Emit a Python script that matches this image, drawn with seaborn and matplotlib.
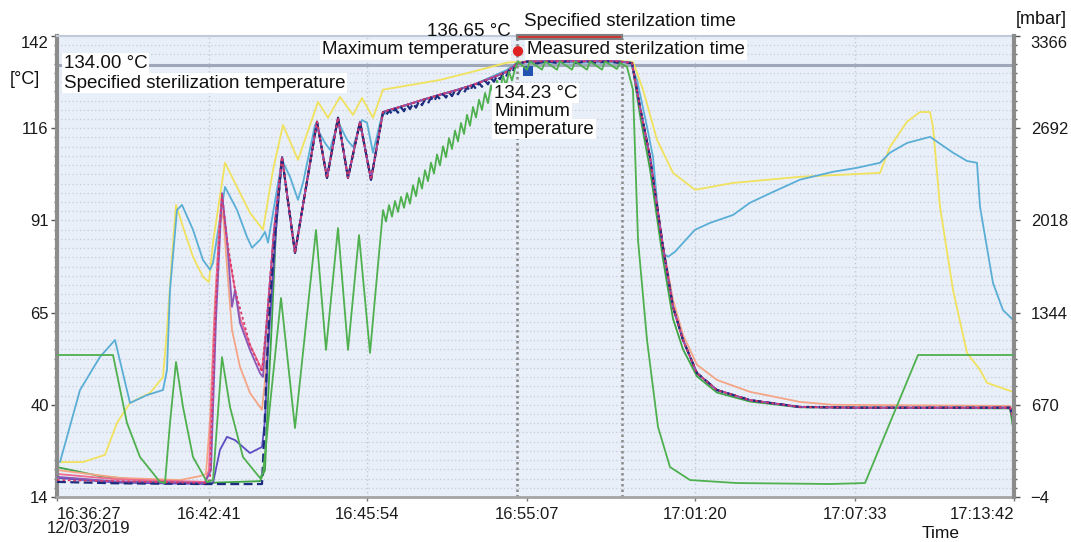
import numpy as np
import pandas as pd
import matplotlib
matplotlib.use("Agg")
import matplotlib.pyplot as plt
import seaborn as sns
from matplotlib.patches import Rectangle
from matplotlib.transforms import ScaledTranslation

sns.set_theme(style="white")
plt.rcParams['font.family'] = ['Liberation Sans', 'DejaVu Sans']

# ---------------- DATA ----------------
# x = position along the (non-linear) time axis, 0 .. 957
tick_pos = [0, 152, 310, 470, 638, 798, 957]
tick_labels = ["16:36:27\n12/03/2019", "16:42:41", "16:45:54", "16:55:07",
               "17:01:20", "17:07:33", "17:13:42"]
temp_ticks = ["14", "40", "65", "91", "116", "142"]
press_ticks = ["\u22124", "670", "1344", "2018", "2692", "3366"]

yellow_x = [3, 26, 48, 60, 73, 93, 106, 110, 115, 119, 126, 136, 146, 152, 156, 168, 180, 193, 206, 216,
            226, 241, 261, 271, 283, 296, 305, 316, 326, 343, 383, 416, 450, 460, 543, 576, 586, 600, 616, 638,
            676, 743, 823, 833, 850, 863, 873, 876, 883, 896, 910, 923, 930, 956]
yellow_t = [23.7, 23.7, 25.7, 34.6, 40.1, 42.9, 47.3, 60.4, 80.7, 95.1, 89.0, 80.7, 75.1, 73.7, 84.6, 106.8, 100.1, 92.9, 88.2, 104.8,
            117.3, 107.6, 123.7, 119.3, 125.1, 120.1, 124.8, 119.3, 127.1, 127.9, 129.8, 132.1, 134.6, 134.8, 135.4, 134.8, 127.1, 113.2, 104.0, 99.3,
            101.2, 102.9, 104.0, 111.2, 118.2, 120.9, 120.9, 116.8, 94.6, 71.5, 54.0, 49.3, 45.7, 43.2]

lightblue_x = [3, 23, 43, 58, 73, 90, 106, 110, 113, 120, 125, 136, 146, 153, 156, 168, 180, 190, 195, 203,
               208, 211, 225, 233, 241, 246, 258, 268, 273, 281, 290, 296, 305, 310, 316, 325, 350, 383, 416, 450,
               460, 573, 580, 590, 596, 603, 606, 611, 618, 638, 653, 676, 693, 716, 743, 776, 800, 823, 833, 850,
               873, 896, 910, 920, 923, 936, 946, 956]
lightblue_t = [23.7, 43.7, 52.9, 57.6, 40.1, 42.3, 43.7, 49.3, 71.5, 93.7, 95.1, 88.2, 79.8, 77.1, 79.0, 100.1, 93.7, 86.2, 83.2, 85.4,
               87.6, 84.6, 107.6, 102.9, 96.5, 101.2, 117.3, 112.3, 110.4, 118.2, 113.2, 111.2, 118.7, 117.9, 109.6, 120.1, 122.9, 125.7, 128.4, 132.6,
               134.6, 134.6, 129.8, 116.8, 108.4, 87.3, 81.8, 80.7, 82.1, 88.2, 90.1, 92.3, 95.7, 98.7, 102.1, 104.3, 105.4, 106.8, 109.6, 112.3,
               114.0, 109.6, 107.3, 106.8, 94.6, 73.4, 65.9, 63.2]

# chamber pressure [mbar]
pressure_x = [0, 56, 70, 83, 103, 108, 113, 119, 126, 136, 150, 156, 165, 173, 186, 203, 206, 224, 238, 259,
              269, 281, 291, 302, 313,
              326, 329, 332, 335, 338, 341, 344, 347, 350, 353, 356, 359, 362, 365, 368, 371, 374, 377, 380, 383,
              386, 389, 392, 395, 398, 401, 404, 407, 410, 413, 416, 419, 422, 425, 428, 431, 434, 437, 440, 443,
              446, 449, 452, 455, 458,
              461, 470, 473, 485, 488, 500, 503, 515, 518, 530, 533, 545, 548, 560, 563, 570,
              576, 581, 590, 601, 613, 633, 680, 773, 808, 861, 956]
pressure_mbar = [1034, 1034, 537, 288, 106, 98, 537, 983, 654, 288, 106, 120, 1019, 654, 288, 135, 171, 1451, 500, 1948,
                 1071, 1962, 1071, 1911, 1049,
                 2094, 2010, 2130, 2045, 2160, 2080, 2190, 2110, 2218, 2140, 2275, 2195, 2330, 2250, 2385, 2305, 2440, 2360, 2500, 2420,
                 2560, 2480, 2620, 2540, 2675, 2595, 2730, 2650, 2790, 2710, 2847, 2770, 2900, 2825, 2950, 2875, 3005, 2930, 3040, 2970,
                 3075, 3005, 3105, 3040, 3125,
                 3180, 3120, 3180, 3120, 3180, 3120, 3180, 3120, 3180, 3120, 3180, 3120, 3180, 3125, 3170, 3140,
                 2971, 1875, 1144, 508, 215, 120, 98, 91, 98, 1034, 1034]

# common course of the load probes (they overlap from the pulses to the cooldown)
bundle_x = [225, 238, 260, 270, 281, 291, 303, 314, 326, 333, 350, 366, 383, 400, 416, 433, 450, 460, 470, 500, 530, 560, 575]
bundle_t = [108.4, 81.8, 118.2, 102.6, 119.3, 102.6, 118.2, 102.1, 120.9, 121.5, 122.9, 124.3, 125.7, 127.0, 128.4, 130.2, 132.1, 134.3, 134.9, 135.0, 135.0, 135.0, 134.5]
cool_x = [583, 593, 606, 616, 626, 640, 660, 693, 743, 800, 900, 953, 956]
cool_t = [122.3, 108.4, 83.4, 66.8, 57.6, 48.4, 43.7, 40.9, 39.0, 38.8, 38.8, 38.8, 36.2]

# navy probe (visible ripple during the heat-up and hold)
navy_mid_x = [225, 238, 260, 270, 281, 291, 303, 314,
              326, 329, 332, 335, 338, 341, 344, 347, 350, 353, 356, 359, 362, 365, 368, 371, 374, 377, 380, 383,
              386, 389, 392, 395, 398, 401, 404, 407, 410, 413, 416, 419, 422, 425, 428, 431, 434, 437, 440, 443,
              446, 449, 452, 455, 458, 460, 470, 480, 490, 500, 510, 520, 530, 540, 550, 560, 575]
navy_mid_t = [108.4, 81.8, 118.2, 102.6, 119.3, 102.6, 118.2, 102.1,
              120.9, 119.8, 121.4, 120.3, 121.8, 120.7, 122.2, 121.1, 122.9, 121.7, 123.3, 122.1, 123.9, 122.8, 124.4, 123.3, 124.9, 123.8, 125.4, 124.5,
              125.9, 124.9, 126.4, 125.3, 126.8, 125.8, 127.3, 126.2, 127.8, 126.7, 128.4, 127.3, 129.0, 127.9, 129.6, 128.6, 130.3, 129.3, 131.0, 130.0,
              131.6, 130.7, 132.5, 131.7, 133.6, 134.3, 134.9, 134.4, 135.0, 134.5, 135.0, 134.5, 135.0, 134.5, 135.0, 134.6, 134.5]

red_x = [0, 60, 148, 153, 158, 163, 165, 170, 178, 193, 205, 209, 217]
red_t = [18.7, 18.4, 17.9, 18.7, 62.3, 90.1, 97.9, 85.4, 71.5, 56.2, 48.7, 60.4, 88.0]
pink_x = [0, 60, 148, 152, 157, 162, 165, 171, 183, 193, 205, 209, 217]
pink_t = [20.4, 18.9, 18.2, 21.5, 60.4, 88.2, 97.3, 82.6, 63.7, 56.2, 49.3, 60.4, 88.0]
purple_x = [0, 60, 148, 154, 159, 165, 170, 175, 178, 183, 193, 203, 206, 210, 217]
purple_t = [19.6, 18.3, 17.9, 21.5, 63.2, 98.4, 85.4, 66.8, 71.5, 62.3, 54.8, 48.4, 47.3, 63.2, 88.0]
salmon_x = [0, 63, 123, 143, 149, 153, 158, 163, 166, 170, 175, 183, 193, 205, 208, 214]
salmon_t = [21.5, 19.3, 18.7, 19.8, 20.4, 35.4, 68.7, 90.0, 93.0, 78.0, 60.4, 50.1, 42.9, 38.2, 46.5, 72.0]
salmon_cool_x = [583, 593, 606, 616, 626, 640, 660, 693, 743, 776, 953, 956]
salmon_cool_t = [122.3, 108.4, 84.0, 68.7, 59.0, 50.7, 46.5, 43.2, 40.4, 39.6, 39.3, 37.6]
violet_x = [0, 60, 148, 156, 163, 170, 178, 193, 205, 208, 211, 215, 219]
violet_t = [19.3, 18.0, 17.6, 17.9, 27.1, 30.7, 29.8, 26.2, 27.9, 35.4, 54.8, 71.5, 88.0]
navy_x = [0, 60, 148, 205, 207, 210, 213, 219]
navy_t = [18.2, 17.8, 17.6, 17.6, 29.8, 52.1, 68.7, 90.0]
green_x = [0, 43, 103, 148, 203, 208, 211, 215, 219]
green_t = [22.3, 19.8, 18.2, 17.9, 18.4, 21.5, 40.9, 63.2, 88.2]
green_cool_x = [583, 593, 606, 616, 626, 640, 660, 693, 743, 953, 956]
green_cool_t = [120.0, 105.0, 80.0, 63.5, 55.0, 47.5, 43.0, 40.5, 38.9, 38.6, 33.4]

max_x, max_t = [461], [136.65]
min_x, min_t = [471], [134.23]
spec_temp = 134.0
steril_start, steril_end = 460, 565

# ---------------- FIGURE ----------------
W, H = 1071, 542
fig = plt.figure(figsize=(W / 100, H / 100), dpi=100)
fig.patch.set_facecolor('white')
ax = fig.add_axes([57 / W, 45 / H, 957 / W, 461 / H])
ax.set_facecolor('#e9eff8')
ax.set_xlim(0, 957)
ax.set_ylim(14, 142)
ax.set_axisbelow(True)

# grid
ax.set_yticks(np.linspace(14, 142, 6))
ax.set_yticks(np.linspace(14, 142, 51), minor=True)
ax.grid(which='both', axis='y', color='#c4ccd9', linestyle=(0, (1, 2)), linewidth=0.9)
for p in tick_pos[1:-1]:
    if p != 470:
        ax.axvline(p, color='#c2cad8', linestyle=(0, (1, 2)), linewidth=1.0, zorder=0.5)
ax.axhline(spec_temp, color='#9ea8b8', linewidth=2.2, zorder=1)
for p in (steril_start, steril_end):
    ax.axvline(p, color='#8a8a8a', linestyle=(0, (1, 1.2)), linewidth=1.8, zorder=1.2)


def draw(x, y, color, axis, ls='-', lw=1.3, z=2):
    sns.lineplot(x=x, y=y, ax=axis, color=color, linestyle=ls, linewidth=lw,
                 sort=False, estimator=None, legend=False, zorder=z)


draw(yellow_x, yellow_t, '#f0e25e', ax, z=2)
draw(lightblue_x, lightblue_t, '#5aaed6', ax, z=2.1)
draw(green_x + bundle_x + green_cool_x, green_t + bundle_t + green_cool_t, '#3fa444', ax, z=2.2)
draw(salmon_x + bundle_x + salmon_cool_x, salmon_t + bundle_t + salmon_cool_t, '#f4a586', ax, z=2.3)
draw(pink_x + bundle_x + cool_x, pink_t + bundle_t + cool_t, '#ee6a90', ax, z=2.4)
draw(violet_x + bundle_x + cool_x, violet_t + bundle_t + cool_t, '#5b4cc0', ax, z=2.5)
draw(purple_x + bundle_x + cool_x, purple_t + bundle_t + cool_t, '#8a58b4', ax, z=2.6)
draw(navy_x + navy_mid_x + cool_x, navy_t + navy_mid_t + cool_t, '#1d2d7e', ax, ls=(0, (4, 2)), lw=1.6, z=2.7)
draw(red_x + bundle_x + cool_x, red_t + bundle_t + cool_t, '#d8386a', ax, ls=(0, (1.5, 1.5)), lw=1.3, z=2.8)

# pressure axis
ax2 = ax.twinx()
ax2.set_ylim(-4, 3366)
draw(pressure_x, pressure_mbar, '#4fb04f', ax2, z=3)

# markers
sns.scatterplot(x=max_x, y=max_t, ax=ax, marker='o', s=55, color='#e02222', edgecolor='none', zorder=5, legend=False)
ax.collections[-1].set_offset_transform(ax.transData + ScaledTranslation(0, 4 / 100, fig.dpi_scale_trans))
sns.scatterplot(x=min_x, y=min_t, ax=ax, marker='s', s=50, color='#2452b0', edgecolor='none', zorder=5, legend=False)
ax.collections[-1].set_offset_transform(ax.transData + ScaledTranslation(0, -7 / 100, fig.dpi_scale_trans))

# specified sterilization time bracket
ax.add_patch(Rectangle((steril_start, 141.3), steril_end - steril_start, 0.9, facecolor='#cc3333',
                       edgecolor='#7f7f7f', linewidth=1.5, clip_on=False, zorder=6))

# spines
for s in ('top', 'bottom', 'left', 'right'):
    ax2.spines[s].set_visible(s == 'right')
ax.spines['right'].set_visible(False)
ax.spines['left'].set_color('#8c8c8c'); ax.spines['left'].set_linewidth(3)
ax2.spines['right'].set_color('#8c8c8c'); ax2.spines['right'].set_linewidth(3)
ax.spines['bottom'].set_color('#a4a4a4'); ax.spines['bottom'].set_linewidth(2)
ax.spines['top'].set_color('#c0cadb'); ax.spines['top'].set_linewidth(1.5)

# ticks
ax.set_xticks(tick_pos)
ax.set_xticklabels(tick_labels)
ax.tick_params(axis='x', length=3, width=1, color='#777', pad=4, labelsize=12, labelcolor='#1a1a1a', bottom=True)
ax.set_yticklabels(temp_ticks)
ax.tick_params(axis='y', which='major', left=True, length=4, width=1, color='#555', pad=2, labelsize=12, labelcolor='#1a1a1a')
ax.tick_params(axis='y', which='minor', left=True, length=2, width=1, color='#666')
ax2.set_yticks(np.linspace(-4, 3366, 6))
ax2.set_yticks(np.linspace(-4, 3366, 51), minor=True)
ax2.set_yticklabels(press_ticks)
ax2.tick_params(axis='y', which='major', right=True, length=4, width=1, color='#555', pad=8, labelsize=12, labelcolor='#1a1a1a')
ax2.tick_params(axis='y', which='minor', right=True, length=2, width=1, color='#666')
ax.set_xlabel(''); ax.set_ylabel(''); ax2.set_ylabel('')

xl = ax.get_xticklabels()
xl[0].set_ha('left'); xl[0].set_multialignment('center'); xl[0].set_linespacing(0.95)
xl[0].set_transform(xl[0].get_transform() + ScaledTranslation(-10 / 100, 0, fig.dpi_scale_trans))
xl[-1].set_ha('right')
ax.get_yticklabels()[-1].set_va('top')
ax2.get_yticklabels()[-1].set_va('top')

# texts
fx = lambda px: px / W
fy = lambda py: 1 - py / H
FS = 13.5
wb = dict(facecolor='white', edgecolor='none', pad=1.2)
fig.text(fx(64), fy(63), "134.00 \u00b0C", ha='left', va='center', fontsize=FS, bbox=wb, color='#111')
fig.text(fx(64), fy(83), "Specified sterilization temperature", ha='left', va='center', fontsize=FS, bbox=wb, color='#111')
fig.text(fx(511), fy(31), "136.65 \u00b0C", ha='right', va='center', fontsize=FS, color='#111')
fig.text(fx(524), fy(21), "Specified sterilzation time", ha='left', va='center', fontsize=FS, color='#111')
fig.text(fx(509), fy(50), "Maximum temperature", ha='right', va='center', fontsize=FS, bbox=wb, color='#111')
fig.text(fx(527), fy(50), "Measured sterilzation time", ha='left', va='center', fontsize=FS, bbox=wb, color='#111')
fig.text(fx(494), fy(93), "134.23 \u00b0C", ha='left', va='center', fontsize=FS, bbox=wb, color='#111')
fig.text(fx(494), fy(111), "Minimum", ha='left', va='center', fontsize=FS, bbox=wb, color='#111')
fig.text(fx(494), fy(129), "temperature", ha='left', va='center', fontsize=FS, bbox=wb, color='#111')
fig.text(fx(25), fy(80), "[\u00b0C]", ha='center', va='center', fontsize=13, color='#111')
fig.text(fx(1041), fy(20), "[mbar]", ha='center', va='center', fontsize=13, color='#111')
fig.text(fx(941), fy(533), "Time", ha='center', va='center', fontsize=12.5, color='#111')

fig.savefig('out.png', dpi=100)
